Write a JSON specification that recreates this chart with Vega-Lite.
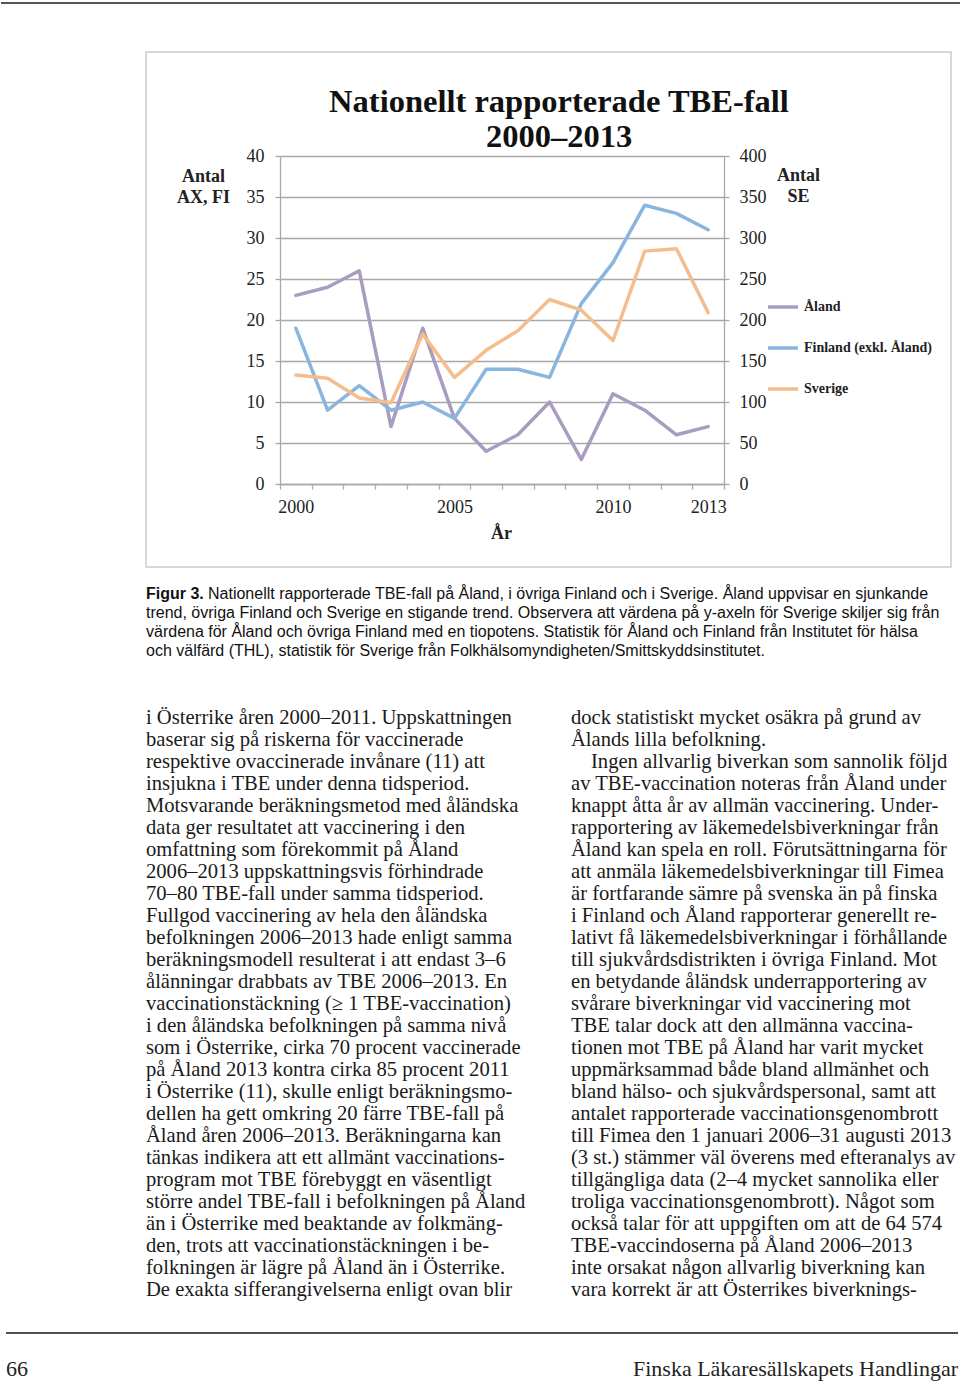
{
  "$schema": "https://vega.github.io/schema/vega-lite/v6.json",
  "background": "white",
  "padding": 0,
  "bounds": "flush",
  "spacing": 0,
  "config": {"view": {"stroke": null}, "concat": {"spacing": 0}},
  "datasets": {
    "tbe": [
      {"series": "Åland", "year": 2000, "value": 23}, {"series": "Åland", "year": 2001, "value": 24},
      {"series": "Åland", "year": 2002, "value": 26}, {"series": "Åland", "year": 2003, "value": 7},
      {"series": "Åland", "year": 2004, "value": 19}, {"series": "Åland", "year": 2005, "value": 8},
      {"series": "Åland", "year": 2006, "value": 4}, {"series": "Åland", "year": 2007, "value": 6},
      {"series": "Åland", "year": 2008, "value": 10}, {"series": "Åland", "year": 2009, "value": 3},
      {"series": "Åland", "year": 2010, "value": 11}, {"series": "Åland", "year": 2011, "value": 9},
      {"series": "Åland", "year": 2012, "value": 6}, {"series": "Åland", "year": 2013, "value": 7},
      {"series": "Finland (exkl. Åland)", "year": 2000, "value": 19}, {"series": "Finland (exkl. Åland)", "year": 2001, "value": 9},
      {"series": "Finland (exkl. Åland)", "year": 2002, "value": 12}, {"series": "Finland (exkl. Åland)", "year": 2003, "value": 9},
      {"series": "Finland (exkl. Åland)", "year": 2004, "value": 10}, {"series": "Finland (exkl. Åland)", "year": 2005, "value": 8},
      {"series": "Finland (exkl. Åland)", "year": 2006, "value": 14}, {"series": "Finland (exkl. Åland)", "year": 2007, "value": 14},
      {"series": "Finland (exkl. Åland)", "year": 2008, "value": 13}, {"series": "Finland (exkl. Åland)", "year": 2009, "value": 22},
      {"series": "Finland (exkl. Åland)", "year": 2010, "value": 27}, {"series": "Finland (exkl. Åland)", "year": 2011, "value": 34},
      {"series": "Finland (exkl. Åland)", "year": 2012, "value": 33}, {"series": "Finland (exkl. Åland)", "year": 2013, "value": 31},
      {"series": "Sverige", "year": 2000, "value": 133}, {"series": "Sverige", "year": 2001, "value": 129},
      {"series": "Sverige", "year": 2002, "value": 105}, {"series": "Sverige", "year": 2003, "value": 99},
      {"series": "Sverige", "year": 2004, "value": 183}, {"series": "Sverige", "year": 2005, "value": 130},
      {"series": "Sverige", "year": 2006, "value": 163}, {"series": "Sverige", "year": 2007, "value": 187},
      {"series": "Sverige", "year": 2008, "value": 225}, {"series": "Sverige", "year": 2009, "value": 212},
      {"series": "Sverige", "year": 2010, "value": 175}, {"series": "Sverige", "year": 2011, "value": 284},
      {"series": "Sverige", "year": 2012, "value": 287}, {"series": "Sverige", "year": 2013, "value": 209}
    ],
    "caption": [
      {"line": 0, "part": "bold", "text": "Figur 3."},
      {"line": 0, "part": "lead", "text": "Nationellt rapporterade TBE-fall på Åland, i övriga Finland och i Sverige. Åland uppvisar en sjunkande"},
      {"line": 1, "part": "body", "text": "trend, övriga Finland och Sverige en stigande trend. Observera att värdena på y-axeln för Sverige skiljer sig från"},
      {"line": 2, "part": "body", "text": "värdena för Åland och övriga Finland med en tiopotens. Statistik för Åland och Finland från Institutet för hälsa"},
      {"line": 3, "part": "body", "text": "och välfärd (THL), statistik för Sverige från Folkhälsomyndigheten/Smittskyddsinstitutet."}
    ],
    "body": [
      {"col": "L", "line": 0, "para": false, "text": "i Österrike åren 2000–2011. Uppskattningen"},
      {"col": "L", "line": 1, "para": false, "text": "baserar sig på riskerna för vaccinerade"},
      {"col": "L", "line": 2, "para": false, "text": "respektive ovaccinerade invånare (11) att"},
      {"col": "L", "line": 3, "para": false, "text": "insjukna i TBE under denna tidsperiod."},
      {"col": "L", "line": 4, "para": false, "text": "Motsvarande beräkningsmetod med åländska"},
      {"col": "L", "line": 5, "para": false, "text": "data ger resultatet att vaccinering i den"},
      {"col": "L", "line": 6, "para": false, "text": "omfattning som förekommit på Åland"},
      {"col": "L", "line": 7, "para": false, "text": "2006–2013 uppskattningsvis förhindrade"},
      {"col": "L", "line": 8, "para": false, "text": "70–80 TBE-fall under samma tidsperiod."},
      {"col": "L", "line": 9, "para": false, "text": "Fullgod vaccinering av hela den åländska"},
      {"col": "L", "line": 10, "para": false, "text": "befolkningen 2006–2013 hade enligt samma"},
      {"col": "L", "line": 11, "para": false, "text": "beräkningsmodell resulterat i att endast 3–6"},
      {"col": "L", "line": 12, "para": false, "text": "ålänningar drabbats av TBE 2006–2013. En"},
      {"col": "L", "line": 13, "para": false, "text": "vaccinationstäckning (≥ 1 TBE-vaccination)"},
      {"col": "L", "line": 14, "para": false, "text": "i den åländska befolkningen på samma nivå"},
      {"col": "L", "line": 15, "para": false, "text": "som i Österrike, cirka 70 procent vaccinerade"},
      {"col": "L", "line": 16, "para": false, "text": "på Åland 2013 kontra cirka 85 procent 2011"},
      {"col": "L", "line": 17, "para": false, "text": "i Österrike (11), skulle enligt beräkningsmo-"},
      {"col": "L", "line": 18, "para": false, "text": "dellen ha gett omkring 20 färre TBE-fall på"},
      {"col": "L", "line": 19, "para": false, "text": "Åland åren 2006–2013. Beräkningarna kan"},
      {"col": "L", "line": 20, "para": false, "text": "tänkas indikera att ett allmänt vaccinations-"},
      {"col": "L", "line": 21, "para": false, "text": "program mot TBE förebyggt en väsentligt"},
      {"col": "L", "line": 22, "para": false, "text": "större andel TBE-fall i befolkningen på Åland"},
      {"col": "L", "line": 23, "para": false, "text": "än i Österrike med beaktande av folkmäng-"},
      {"col": "L", "line": 24, "para": false, "text": "den, trots att vaccinationstäckningen i be-"},
      {"col": "L", "line": 25, "para": false, "text": "folkningen är lägre på Åland än i Österrike."},
      {"col": "L", "line": 26, "para": false, "text": "De exakta sifferangivelserna enligt ovan blir"},
      {"col": "R", "line": 0, "para": false, "text": "dock statistiskt mycket osäkra på grund av"},
      {"col": "R", "line": 1, "para": false, "text": "Ålands lilla befolkning."},
      {"col": "R", "line": 2, "para": true, "text": "Ingen allvarlig biverkan som sannolik följd"},
      {"col": "R", "line": 3, "para": false, "text": "av TBE-vaccination noteras från Åland under"},
      {"col": "R", "line": 4, "para": false, "text": "knappt åtta år av allmän vaccinering. Under-"},
      {"col": "R", "line": 5, "para": false, "text": "rapportering av läkemedelsbiverkningar från"},
      {"col": "R", "line": 6, "para": false, "text": "Åland kan spela en roll. Förutsättningarna för"},
      {"col": "R", "line": 7, "para": false, "text": "att anmäla läkemedelsbiverkningar till Fimea"},
      {"col": "R", "line": 8, "para": false, "text": "är fortfarande sämre på svenska än på finska"},
      {"col": "R", "line": 9, "para": false, "text": "i Finland och Åland rapporterar generellt re-"},
      {"col": "R", "line": 10, "para": false, "text": "lativt få läkemedelsbiverkningar i förhållande"},
      {"col": "R", "line": 11, "para": false, "text": "till sjukvårdsdistrikten i övriga Finland. Mot"},
      {"col": "R", "line": 12, "para": false, "text": "en betydande åländsk underrapportering av"},
      {"col": "R", "line": 13, "para": false, "text": "svårare biverkningar vid vaccinering mot"},
      {"col": "R", "line": 14, "para": false, "text": "TBE talar dock att den allmänna vaccina-"},
      {"col": "R", "line": 15, "para": false, "text": "tionen mot TBE på Åland har varit mycket"},
      {"col": "R", "line": 16, "para": false, "text": "uppmärksammad både bland allmänhet och"},
      {"col": "R", "line": 17, "para": false, "text": "bland hälso- och sjukvårdspersonal, samt att"},
      {"col": "R", "line": 18, "para": false, "text": "antalet rapporterade vaccinationsgenombrott"},
      {"col": "R", "line": 19, "para": false, "text": "till Fimea den 1 januari 2006–31 augusti 2013"},
      {"col": "R", "line": 20, "para": false, "text": "(3 st.) stämmer väl överens med efteranalys av"},
      {"col": "R", "line": 21, "para": false, "text": "tillgängliga data (2–4 mycket sannolika eller"},
      {"col": "R", "line": 22, "para": false, "text": "troliga vaccinationsgenombrott). Något som"},
      {"col": "R", "line": 23, "para": false, "text": "också talar för att uppgiften om att de 64 574"},
      {"col": "R", "line": 24, "para": false, "text": "TBE-vaccindoserna på Åland 2006–2013"},
      {"col": "R", "line": 25, "para": false, "text": "inte orsakat någon allvarlig biverkning kan"},
      {"col": "R", "line": 26, "para": false, "text": "vara korrekt är att Österrikes biverknings-"}
    ],
    "footer": [
      {"side": "L", "text": "66"},
      {"side": "R", "text": "Finska Läkaresällskapets Handlingar"}
    ]
  },
  "vconcat": [
    {
      "width": 960, "height": 52,
      "data": {"values": [{}]},
      "mark": {"type": "rule", "stroke": "#555555", "strokeWidth": 2},
      "encoding": {"y": {"datum": 0, "type": "quantitative", "scale": {"domain": [0, 1], "range": [3, 52]}, "axis": null}}
    },
    {
      "width": 960, "height": 515,
      "title": {
        "text": ["Nationellt rapporterade TBE-fall", "2000–2013"],
        "font": "Liberation Serif", "fontSize": 32.5, "fontWeight": "bold", "color": "#111111",
        "lineHeight": 35, "anchor": "middle", "frame": "group", "baseline": "top",
        "offset": 0, "dx": 78, "dy": 102
      },
      "data": {"name": "tbe"},
      "layer": [
        {
          "data": {"values": [{}]},
          "mark": {"type": "rect", "filled": false, "stroke": "#cccccc", "strokeWidth": 1.5},
          "encoding": {
            "x": {"datum": 0, "type": "quantitative", "scale": {"domain": [0, 1], "range": [145, 950]}, "axis": null},
            "x2": {"datum": 1},
            "y": {"datum": 0, "type": "quantitative", "scale": {"domain": [0, 1], "range": [0, 515]}, "axis": null},
            "y2": {"datum": 1}
          }
        },
        {
          "transform": [{"filter": "datum.series !== 'Sverige'"}],
          "mark": {"type": "line", "strokeWidth": 3.5, "strokeJoin": "round", "strokeCap": "round"},
          "encoding": {
            "x": {
              "field": "year", "type": "ordinal",
              "scale": {"type": "band", "range": [279, 723], "paddingInner": 0, "paddingOuter": 0},
              "axis": {
                "orient": "bottom", "offset": -83, "tickBand": "extent", "ticks": true, "tickSize": 5,
                "tickColor": "#a8a8a8", "tickWidth": 1.3, "domain": true, "domainColor": "#a8a8a8", "domainWidth": 1.3,
                "grid": false, "labelAngle": 0, "labelPadding": 9, "labelOverlap": false,
                "labelExpr": "indexof([2000,2005,2010,2013], datum.value) >= 0 ? datum.label : ''",
                "labelFont": "Liberation Serif", "labelFontSize": 18, "labelColor": "#222222",
                "title": "År", "titleFont": "Liberation Serif", "titleFontSize": 18, "titleFontWeight": "bold",
                "titleColor": "#222222", "titleX": 500, "titleY": 54, "titleAlign": "center", "titleBaseline": "alphabetic"
              }
            },
            "y": {
              "field": "value", "type": "quantitative",
              "scale": {"domain": [0, 40], "range": [432, 104], "nice": false},
              "axis": {
                "orient": "left", "values": [0, 5, 10, 15, 20, 25, 30, 35, 40], "format": "d", "offset": -279,
                "grid": true, "gridColor": "#a8a8a8", "gridWidth": 1.3,
                "domain": true, "domainColor": "#a8a8a8", "domainWidth": 1.3,
                "ticks": true, "tickSize": 5, "tickColor": "#a8a8a8", "tickWidth": 1.3,
                "labelPadding": 11, "labelFont": "Liberation Serif", "labelFontSize": 18, "labelColor": "#222222",
                "title": ["Antal", "AX, FI"], "titleFont": "Liberation Serif", "titleFontSize": 18, "titleFontWeight": "bold",
                "titleColor": "#222222", "titleAngle": 0, "titleAlign": "center", "titleBaseline": "alphabetic",
                "titleX": -77, "titleY": 129, "titleLineHeight": 21
              }
            },
            "color": {
              "field": "series", "type": "nominal",
              "scale": {"domain": ["Åland", "Finland (exkl. Åland)", "Sverige"], "range": ["#a99cc1", "#8ab5de", "#f5bd8b"]},
              "legend": {
                "title": null, "orient": "none", "legendX": 765, "legendY": 290, "padding": 0,
                "symbolType": "stroke", "symbolSize": 900, "symbolStrokeWidth": 3.5,
                "labelFont": "Liberation Serif", "labelFontSize": 14, "labelFontWeight": "bold", "labelColor": "#222222",
                "labelOffset": 4, "rowPadding": 17, "direction": "vertical"
              }
            }
          }
        },
        {
          "transform": [{"filter": "datum.series === 'Sverige'"}],
          "mark": {"type": "line", "strokeWidth": 3.5, "strokeJoin": "round", "strokeCap": "round"},
          "encoding": {
            "x": {
              "field": "year", "type": "ordinal",
              "scale": {"type": "band", "range": [279, 723], "paddingInner": 0, "paddingOuter": 0},
              "axis": null
            },
            "y": {
              "field": "value", "type": "quantitative",
              "scale": {"domain": [0, 400], "range": [432, 104], "nice": false},
              "axis": {
                "orient": "right", "values": [0, 50, 100, 150, 200, 250, 300, 350, 400], "format": "d", "offset": -237,
                "grid": false,
                "domain": true, "domainColor": "#a8a8a8", "domainWidth": 1.3,
                "ticks": true, "tickSize": 5, "tickColor": "#a8a8a8", "tickWidth": 1.3,
                "labelPadding": 10, "labelFont": "Liberation Serif", "labelFontSize": 18, "labelColor": "#222222",
                "title": ["Antal", "SE"], "titleFont": "Liberation Serif", "titleFontSize": 18, "titleFontWeight": "bold",
                "titleColor": "#222222", "titleAngle": 0, "titleAlign": "center", "titleBaseline": "alphabetic",
                "titleX": 74, "titleY": 128, "titleLineHeight": 21
              }
            },
            "color": {
              "field": "series", "type": "nominal",
              "scale": {"domain": ["Åland", "Finland (exkl. Åland)", "Sverige"], "range": ["#a99cc1", "#8ab5de", "#f5bd8b"]},
              "legend": {
                "title": null, "orient": "none", "legendX": 765, "legendY": 290, "padding": 0,
                "symbolType": "stroke", "symbolSize": 900, "symbolStrokeWidth": 3.5,
                "labelFont": "Liberation Serif", "labelFontSize": 14, "labelFontWeight": "bold", "labelColor": "#222222",
                "labelOffset": 4, "rowPadding": 17, "direction": "vertical"
              }
            }
          }
        }
      ],
      "resolve": {"scale": {"x": "independent", "y": "independent"}, "axis": {"x": "independent", "y": "independent"}}
    },
    {"width": 960, "height": 17, "data": {"values": []}, "mark": "point"},
    {
      "width": 960, "height": 77,
      "data": {"name": "caption"},
      "encoding": {
        "x": {"datum": 0, "type": "quantitative", "scale": {"domain": [0, 1], "range": [145, 960]}, "axis": null},
        "y": {"field": "line", "type": "ordinal", "scale": {"type": "band", "paddingInner": 0, "paddingOuter": 0}, "axis": null},
        "text": {"field": "text"}
      },
      "layer": [
        {"transform": [{"filter": "datum.part === 'bold'"}],
         "mark": {"type": "text", "align": "left", "baseline": "middle", "font": "Liberation Sans", "fontSize": 16, "fontWeight": "bold", "color": "#111111"}},
        {"transform": [{"filter": "datum.part === 'lead'"}],
         "mark": {"type": "text", "align": "left", "baseline": "middle", "dx": 62, "font": "Liberation Sans", "fontSize": 16, "color": "#111111"}},
        {"transform": [{"filter": "datum.part === 'body'"}],
         "mark": {"type": "text", "align": "left", "baseline": "middle", "font": "Liberation Sans", "fontSize": 16, "color": "#111111"}}
      ]
    },
    {"width": 960, "height": 46, "data": {"values": []}, "mark": "point"},
    {
      "width": 960, "height": 594,
      "data": {"name": "body"},
      "encoding": {
        "x": {"field": "col", "type": "nominal", "scale": {"type": "point", "domain": ["L", "R"], "range": [145, 570], "padding": 0}, "axis": null},
        "y": {"field": "line", "type": "ordinal", "scale": {"type": "band", "paddingInner": 0, "paddingOuter": 0}, "axis": null},
        "text": {"field": "text"}
      },
      "layer": [
        {"transform": [{"filter": "!datum.para"}],
         "mark": {"type": "text", "align": "left", "baseline": "middle", "font": "Liberation Serif", "fontSize": 20.6, "color": "#1a1a1a"}},
        {"transform": [{"filter": "datum.para"}],
         "mark": {"type": "text", "align": "left", "baseline": "middle", "dx": 20, "font": "Liberation Serif", "fontSize": 20.6, "color": "#1a1a1a"}}
      ]
    },
    {
      "width": 960, "height": 81,
      "data": {"name": "footer"},
      "encoding": {
        "x": {"field": "side", "type": "nominal", "scale": {"type": "point", "domain": ["L", "R"], "range": [5, 957], "padding": 0}, "axis": null}
      },
      "layer": [
        {"mark": {"type": "rule", "stroke": "#444444", "strokeWidth": 1.5},
         "encoding": {
           "x": {"datum": "L", "type": "nominal"},
           "x2": {"datum": "R"},
           "y": {"datum": "rule", "type": "nominal", "scale": {"type": "point", "domain": ["rule", "text"], "range": [32, 68], "padding": 0}, "axis": null}
         }},
        {"transform": [{"filter": "datum.side === 'L'"}],
         "mark": {"type": "text", "align": "left", "baseline": "middle", "font": "Liberation Serif", "fontSize": 22, "color": "#222222"},
         "encoding": {"y": {"datum": "text", "type": "nominal"}, "text": {"field": "text"}}},
        {"transform": [{"filter": "datum.side === 'R'"}],
         "mark": {"type": "text", "align": "right", "baseline": "middle", "font": "Liberation Serif", "fontSize": 22, "color": "#222222"},
         "encoding": {"y": {"datum": "text", "type": "nominal"}, "text": {"field": "text"}}}
      ]
    }
  ]
}
